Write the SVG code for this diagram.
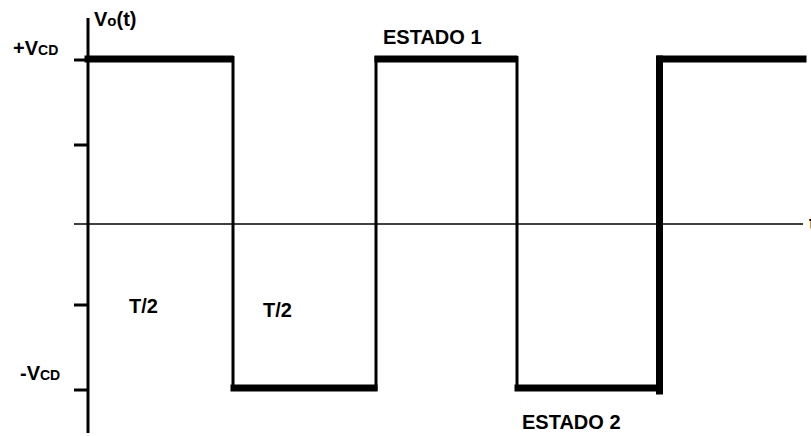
<svg xmlns="http://www.w3.org/2000/svg" width="811" height="436" viewBox="0 0 811 436">
<style>
.lbl{font-family:"Liberation Sans",Arial,sans-serif;font-weight:bold;font-size:20px;fill:#000}
.ax{stroke:#000;fill:none}
.thick{stroke:#000;stroke-width:7;fill:none;stroke-linecap:square}
.thin{stroke:#000;stroke-width:3;fill:none}
</style>
<rect width="811" height="436" fill="#fff"/>
<g id="axes">
<line class="ax" x1="88" y1="18" x2="88" y2="433" stroke-width="3"/>
<line class="ax" x1="74" y1="224" x2="803" y2="224" stroke-width="1.6"/>
<line class="ax" x1="74" y1="60" x2="88" y2="60" stroke-width="3"/>
<line class="ax" x1="74" y1="145" x2="88" y2="145" stroke-width="3"/>
<line class="ax" x1="74" y1="305" x2="88" y2="305" stroke-width="3"/>
<line class="ax" x1="74" y1="390" x2="88" y2="390" stroke-width="3"/>
</g>
<g id="waveform">
<line class="thick" x1="88" y1="59" x2="230" y2="59"/>
<line class="thin" x1="233" y1="56" x2="233" y2="391"/>
<line class="thick" x1="234" y1="388" x2="374" y2="388"/>
<line class="thin" x1="376" y1="391" x2="376" y2="56"/>
<line class="thick" x1="378" y1="59" x2="514" y2="59"/>
<line class="thin" x1="517" y1="56" x2="517" y2="391"/>
<line class="thick" x1="518" y1="388" x2="657" y2="388"/>
<line class="thick" x1="659.5" y1="391" x2="659.5" y2="59"/>
<line class="thick" x1="660" y1="59" x2="803" y2="59"/>
</g>
<g id="labels">
<text class="lbl" x="94" y="26">V<tspan font-size="15">o</tspan>(t)</text>
<text class="lbl" x="13" y="55">+V<tspan font-size="14">CD</tspan></text>
<text class="lbl" x="20" y="380">-V<tspan font-size="14">CD</tspan></text>
<text class="lbl" x="129" y="313">T/2</text>
<text class="lbl" x="263" y="317">T/2</text>
<text class="lbl" x="383" y="44">ESTADO 1</text>
<text class="lbl" x="522" y="429">ESTADO 2</text>
<text class="lbl" x="809" y="230">t</text>
</g>
</svg>
